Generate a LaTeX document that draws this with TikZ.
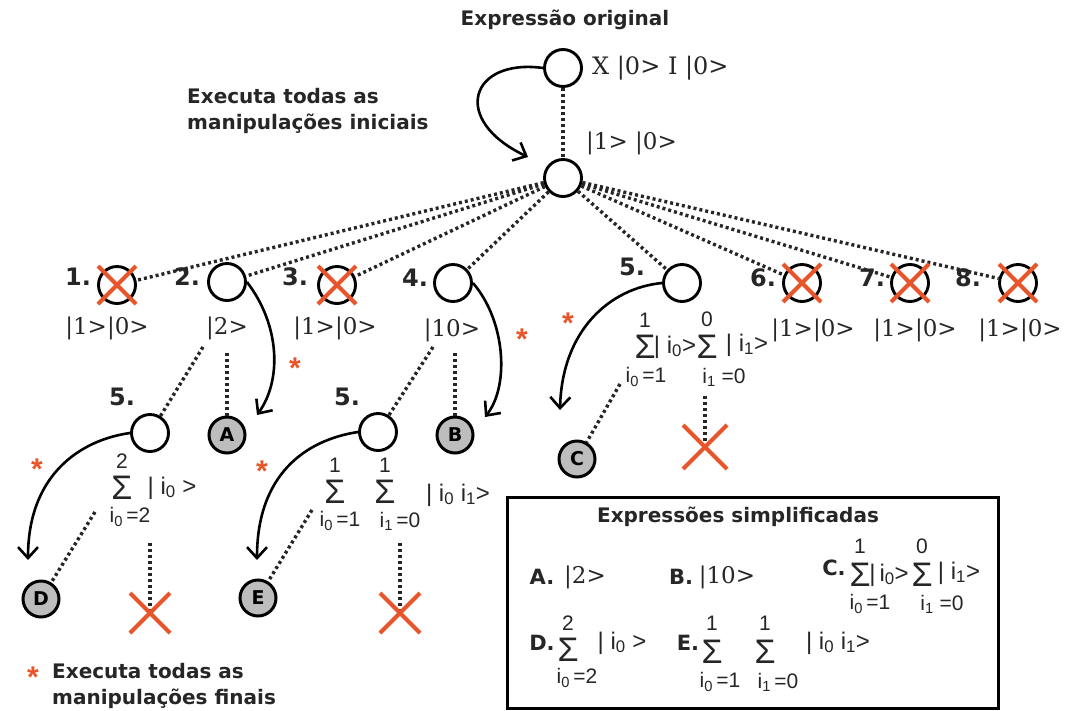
\documentclass[tikz,border=0pt]{standalone}
\usepackage{fontspec}
\setmainfont{DejaVu Serif}
\newfontfamily\labf{DejaVu Sans}
\newfontfamily\sumf{Liberation Sans}
\usetikzlibrary{arrows.meta}
\definecolor{xor}{HTML}{E8552A}
\definecolor{txt}{HTML}{262626}
\definecolor{nodegray}{HTML}{BDBDBD}
\newcommand\killx[2]{\draw[xline] ([shift={(-#2,-#2)}]#1) -- ([shift={(#2,#2)}]#1) ([shift={(-#2,#2)}]#1) -- ([shift={(#2,-#2)}]#1);}
\newcommand\sbz[1]{\textsubscript{#1}}
\begin{document}
\begin{tikzpicture}[x=1pt,y=-1pt,
 st/.style={circle,draw=black,line width=2.9pt,minimum size=37pt,inner sep=0pt,fill=white},
 res/.style={circle,draw=black,line width=3pt,minimum size=36pt,inner sep=0pt,fill=nodegray,font=\labf\bfseries\fontsize{19}{19}\selectfont},
 dots/.style={line width=3.4pt,dash pattern=on 3pt off 3pt,black!85},
 arr/.style={line width=2.6pt,-{Straight Barb[length=11pt,width=20pt,line width=2.6pt]}},
 xline/.style={line width=4pt,xor},
 lbl/.style={font=\labf\bfseries\fontsize{20}{26}\selectfont,text=txt,inner sep=0pt,align=left},
 blab/.style={font=\labf\bfseries\fontsize{21}{21}\selectfont,text=txt,inner sep=0pt},
 num/.style={font=\labf\bfseries\fontsize{24}{24}\selectfont,text=txt,inner sep=0pt},
 ket/.style={font=\fontsize{23}{23}\selectfont,text=txt,inner sep=0pt},
 sig/.style={font=\sumf\fontsize{34}{34}\selectfont,text=txt,inner sep=0pt},
 lim/.style={font=\sumf\fontsize{21}{21}\selectfont,text=txt,inner sep=0pt},
 skt/.style={font=\sumf\fontsize{24}{24}\selectfont,text=txt,inner sep=0pt},
 ast/.style={font=\sumf\bfseries\fontsize{30}{30}\selectfont,text=xor,inner sep=0pt},
]
\path[fill=white,use as bounding box] (0,0) rectangle (1070,710);

% top
\node[lbl] (title) at (565,20) {Expressão original};
\node[st] (r0) at (563,68) {};
\node[ket,anchor=west,font=\fontsize{24}{24}\selectfont] (r0l) at (592,68) {X |0> I |0>};
\node[st] (r1) at (563,178) {};
\node[ket,anchor=west] (r1l) at (586,143) {|1> |0>};
\node[lbl,anchor=north west] (init) at (187,88) {Executa todas as\\manipulações iniciais};
\coordinate (a0) at (528,157);

% level 1
\node[st] (n1) at (117,285) {}; \node[num] (n1n) at (78,277) {1.};
\node[st] (n2) at (227,282) {}; \node[num] (n2n) at (187,277) {2.};
\node[st] (n3) at (337,285) {}; \node[num] (n3n) at (295,277) {3.};
\node[st] (n4) at (453,283) {}; \node[num] (n4n) at (415,278) {4.};
\node[st] (n5) at (682,283) {}; \node[num] (n5n) at (632,267) {5.};
\node[st] (n6) at (802,283) {}; \node[num] (n6n) at (763,278) {6.};
\node[st] (n7) at (910,283) {}; \node[num] (n7n) at (872,278) {7.};
\node[st] (n8) at (1018,283) {}; \node[num] (n8n) at (968,278) {8.};
\node[ket] (n1k) at (107,328) {|1>|0>};
\node[ket] (n2k) at (227,328) {|2>};
\node[ket] (n3k) at (335,328) {|1>|0>};
\node[ket] (n4k) at (452,330) {|10>};
\node[ket] (n6k) at (813,330) {|1>|0>};
\node[ket] (n7k) at (915,330) {|1>|0>};
\node[ket] (n8k) at (1020,330) {|1>|0>};

% node 5 sum
\node[lim] (s5au) at (645,320) {1};
\node[sig] (s5a) at (645,347) {Σ};
\node[lim] (s5al) at (646,377) {i\sbz{0}\,=1};
\node[skt] (s5ak) at (675,347) {| i\sbz{0}>};
\node[lim] (s5bu) at (707,319) {0};
\node[sig] (s5b) at (707,347) {Σ};
\node[lim] (s5bl) at (724,377) {i\sbz{1} =0};
\node[skt] (s5bk) at (747,345) {| i\sbz{1}>};
\node[res] (C) at (577,459) {C};
\coordinate (c5d) at (620,384);
\coordinate (x5t) at (705,396);
\coordinate (x5) at (705,447);
\node[ast] (ast5) at (568,323) {*};

% under node 2
\node[st] (m2) at (150,433) {}; \node[num] (m2n) at (122,397) {5.};
\node[res] (A) at (227,435) {A};
\coordinate (d2a) at (203,347);
\coordinate (d2b) at (227,353);
\node[ast] (ast2) at (295,368) {*};
\node[lim] (s2u) at (122,461) {2};
\node[sig] (s2) at (122,488) {Σ};
\node[lim] (s2l) at (130,517) {i\sbz{0}\,=2};
\node[skt] (s2k) at (172,488) {| i\sbz{0} >};
\node[ast] (ast2b) at (37,469) {*};
\node[res] (D) at (41,599) {D};
\coordinate (d2c) at (95,512);
\coordinate (x2t) at (150,543);
\coordinate (x2) at (150,613);

% under node 4
\node[st] (m4) at (378,432) {}; \node[num] (m4n) at (347,397) {5.};
\node[res] (B) at (455,435) {B};
\coordinate (d4a) at (433,347);
\coordinate (d4b) at (455,353);
\node[ast] (ast4) at (522,339) {*};
\node[lim] (s4au) at (335,465) {1};
\node[sig] (s4a) at (335,492) {Σ};
\node[lim] (s4al) at (340,521) {i\sbz{0}\,=1};
\node[lim] (s4bu) at (385,465) {1};
\node[sig] (s4b) at (385,492) {Σ};
\node[lim] (s4bl) at (400,521) {i\sbz{1}\,=0};
\node[skt] (s4k) at (458,495) {| i\sbz{0} i\sbz{1}>};
\node[ast] (ast4b) at (262,471) {*};
\node[res] (E) at (258,598) {E};
\coordinate (d4c) at (312,510);
\coordinate (x4t) at (400,543);
\coordinate (x4) at (400,613);

% connectors
\draw[dots] (r0) -- (r1);
\draw[arr] (r0.west) .. controls (470,58) and (450,120) .. (a0);
\foreach \n in {n1,n2,n3,n4,n5,n6,n7,n8} \draw[dots] (r1) -- (\n);
\draw[dots] (d2a) -- (m2);
\draw[dots] (d2b) -- (A);
\draw[arr] (n2.east) .. controls (280,325) and (282,380) .. (257,415);
\draw[dots] (d4a) -- (m4);
\draw[dots] (d4b) -- (B);
\draw[arr] (n4.east) .. controls (505,320) and (510,385) .. (485,417);
\draw[arr] (n5.west) .. controls (610,288) and (562,330) .. (560,410);
\draw[dots] (c5d) -- (C);
\draw[dots] (x5t) -- (x5);
\draw[arr] (m2.west) .. controls (80,440) and (28,475) .. (28,560);
\draw[dots] (d2c) -- (D);
\draw[dots] (x2t) -- (x2);
\draw[arr] (m4.west) .. controls (305,440) and (257,475) .. (257,560);
\draw[dots] (d4c) -- (E);
\draw[dots] (x4t) -- (x4);

% crosses
\killx{n1.center}{19}
\killx{n3.center}{19}
\killx{n6.center}{19}
\killx{n7.center}{19}
\killx{n8.center}{19}
\killx{x5}{22}
\killx{x2}{20}
\killx{x4}{20}

% legend
\node[ast] (astl) at (33,677) {*};
\node[lbl,anchor=base west] (fin1) at (52,678) {Executa todas as};
\node[lbl,anchor=base west] (fin2) at (52,704) {manipulações finais};

% box
\node[draw=black,line width=3pt,minimum width=491pt,minimum height=211pt,inner sep=0pt] (box) at (752.5,602.5) {};
\node[lbl] (bt) at (738,517) {Expressões simplificadas};
\node[blab] (bA) at (542,577) {A.};
\node[ket] (bAk) at (585,577) {|2>};
\node[blab] (bB) at (681,577) {B.};
\node[ket] (bBk) at (727,577) {|10>};
\node[blab] (bC) at (834,568) {C.};
\node[lim] (bC1u) at (860,546) {1};
\node[sig] (bC1) at (860,575) {Σ};
\node[lim] (bC1l) at (870,604) {i\sbz{0}\,=1};
\node[skt] (bC1k) at (889,575) {|\,i\sbz{0}>};
\node[lim] (bC2u) at (922,546) {0};
\node[sig] (bC2) at (922,575) {Σ};
\node[lim] (bC2l) at (942,604) {i\sbz{1} =0};
\node[skt] (bC2k) at (959,573) {| i\sbz{1}>};
\node[blab] (bD) at (542,643) {D.};
\node[lim] (bD1u) at (568,623) {2};
\node[sig] (bD1) at (568,650) {Σ};
\node[lim] (bD1l) at (577,678) {i\sbz{0}\,=2};
\node[skt] (bDk) at (622,643) {| i\sbz{0} >};
\node[blab] (bE) at (688,643) {E.};
\node[lim] (bE1u) at (712,623) {1};
\node[sig] (bE1) at (712,652) {Σ};
\node[lim] (bE1l) at (720,682) {i\sbz{0}\,=1};
\node[lim] (bE2u) at (765,623) {1};
\node[sig] (bE2) at (765,652) {Σ};
\node[lim] (bE2l) at (778,682) {i\sbz{1}\,=0};
\node[skt] (bEk) at (838,643) {| i\sbz{0} i\sbz{1}>};
\end{tikzpicture}
\end{document}
